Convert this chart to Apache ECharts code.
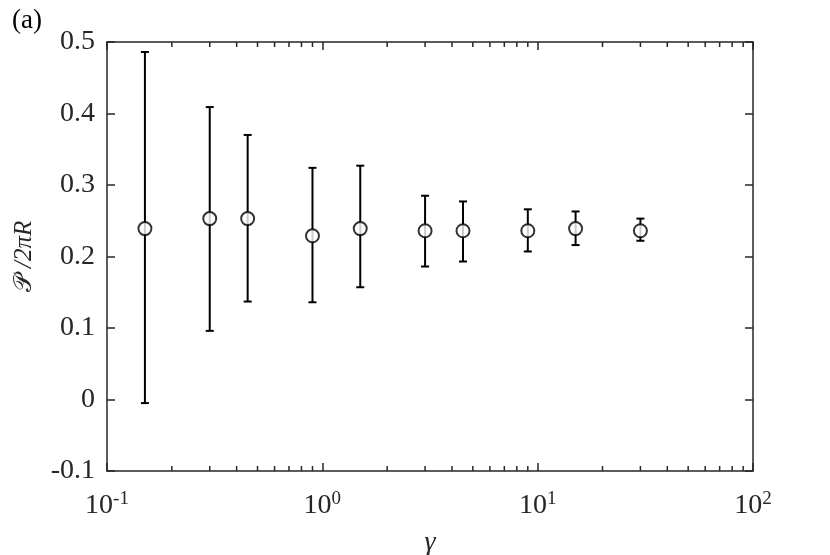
<!DOCTYPE html>
<html><head><meta charset="utf-8">
<script src="https://cdn.jsdelivr.net/npm/echarts@6/dist/echarts.min.js"></script>
<style>html,body{margin:0;padding:0;background:#fff}#c{width:830px;height:555px}</style>
</head><body><div id="c"></div>
<script>
const gamma = [0.15, 0.3, 0.45, 0.9, 1.5, 3, 4.5, 9, 15, 30];
const meanVal = [0.239, 0.253, 0.253, 0.229, 0.239, 0.236, 0.236, 0.236, 0.239, 0.236];
const upperVal = [0.486, 0.409, 0.370, 0.324, 0.327, 0.285, 0.277, 0.266, 0.263, 0.253];
const lowerVal = [-0.005, 0.096, 0.137, 0.136, 0.157, 0.186, 0.193, 0.207, 0.216, 0.222];
const yTicks = [-0.1, 0, 0.1, 0.2, 0.3, 0.4, 0.5];
const minorTicks = [0.2,0.3,0.4,0.5,0.6,0.7,0.8,0.9,2,3,4,5,6,7,8,9,20,30,40,50,60,70,80,90];
const Y_MIN = -0.1, Y_MAX = 0.5;

const axisCol = '#262626';
const font = '"Liberation Serif", "DejaVu Serif", serif';

const chart = echarts.init(document.getElementById('c'));
const errData = gamma.map((g, i) => [g, lowerVal[i], upperVal[i]]);
const ptData = gamma.map((g, i) => [g, meanVal[i]]);

const lineSt = { color: axisCol, width: 1.5 };
chart.setOption({
  animation: false,
  backgroundColor: '#fff',
  textStyle: { fontFamily: font },
  graphic: [{
    type: 'text', left: 12, top: 7,
    style: { text: '(a)', font: '27px ' + font, fill: '#000' }
  }],
  grid: { left: 107, right: 77, top: 42, bottom: 84, containLabel: false, outerBoundsMode: 'none' },
  xAxis: [{
    type: 'log', min: 0.1, max: 100, logBase: 10,
    name: '{g|γ}', nameLocation: 'middle', nameGap: 58,
    nameTextStyle: { rich: { g: { fontFamily: font, fontStyle: 'italic', fontSize: 28, color: axisCol } } },
    axisLine: { show: true, onZero: false, lineStyle: lineSt },
    axisTick: { show: true, inside: true, length: 8, lineStyle: lineSt },
    splitLine: { show: false },
    axisLabel: {
      margin: 19, color: axisCol,
      formatter: v => '{b|10}{s|' + Math.round(Math.log10(v)) + '}',
      rich: {
        b: { fontFamily: font, fontSize: 28, color: axisCol, verticalAlign: 'bottom', lineHeight: 30 },
        s: { fontFamily: font, fontSize: 19, color: axisCol, verticalAlign: 'top', lineHeight: 30, padding: [0,0,14,0] }
      }
    }
  }, {
    type: 'log', min: 0.1, max: 100, position: 'top',
    axisLine: { show: true, onZero: false, lineStyle: lineSt },
    axisTick: { show: true, inside: true, length: 8, lineStyle: lineSt },
    axisLabel: { show: false }, splitLine: { show: false }
  }],
  yAxis: [{
    type: 'value', min: Y_MIN, max: Y_MAX, interval: 0.1,
    name: '{p|𝒫}{n| /2π}{r|R}', nameLocation: 'middle', nameGap: 70,
    nameTextStyle: { rich: {
      p: { fontFamily: font, fontSize: 25, color: axisCol },
      n: { fontFamily: font, fontSize: 25, color: axisCol, fontStyle: 'italic' },
      r: { fontFamily: font, fontSize: 25, color: axisCol, fontStyle: 'italic' }
    } },
    axisLine: { show: true, onZero: false, lineStyle: lineSt },
    axisTick: { show: true, inside: true, length: 8, lineStyle: lineSt },
    splitLine: { show: false },
    axisLabel: {
      margin: 12, color: axisCol, fontFamily: font, fontSize: 28,
      formatter: v => { const t = yTicks.find(x => Math.abs(x - v) < 1e-9); return t === undefined ? '' : String(t); }
    }
  }, {
    type: 'value', min: Y_MIN, max: Y_MAX, interval: 0.1, position: 'right',
    axisLine: { show: true, onZero: false, lineStyle: lineSt },
    axisTick: { show: true, inside: true, length: 8, lineStyle: lineSt },
    axisLabel: { show: false }, splitLine: { show: false }
  }],
  series: [{
    type: 'custom',
    data: minorTicks.map(v => [v]),
    clip: false,
    silent: true,
    renderItem: (params, api) => {
      const x = api.value(0);
      const b = api.coord([x, Y_MIN]);
      const t = api.coord([x, Y_MAX]);
      const st = { stroke: axisCol, lineWidth: 1.5 };
      return { type: 'group', children: [
        { type: 'line', shape: { x1: b[0], y1: b[1], x2: b[0], y2: b[1] - 5 }, style: st },
        { type: 'line', shape: { x1: t[0], y1: t[1], x2: t[0], y2: t[1] + 5 }, style: st }
      ]};
    }
  }, {
    type: 'custom',
    data: errData,
    silent: true,
    renderItem: (params, api) => {
      const x = api.value(0);
      const lo = api.coord([x, api.value(1)]);
      const hi = api.coord([x, api.value(2)]);
      const w = 4;
      const st = { stroke: '#000', lineWidth: 2 };
      return { type: 'group', children: [
        { type: 'line', shape: { x1: lo[0], y1: lo[1], x2: hi[0], y2: hi[1] }, style: st },
        { type: 'line', shape: { x1: lo[0] - w, y1: lo[1], x2: lo[0] + w, y2: lo[1] }, style: st },
        { type: 'line', shape: { x1: hi[0] - w, y1: hi[1], x2: hi[0] + w, y2: hi[1] }, style: st }
      ]};
    },
    z: 2
  }, {
    type: 'scatter',
    data: ptData,
    symbol: 'circle',
    symbolSize: 13,
    itemStyle: { color: '#fff', borderColor: '#000', borderWidth: 2 },
    z: 3
  }]
});
</script></body></html>
